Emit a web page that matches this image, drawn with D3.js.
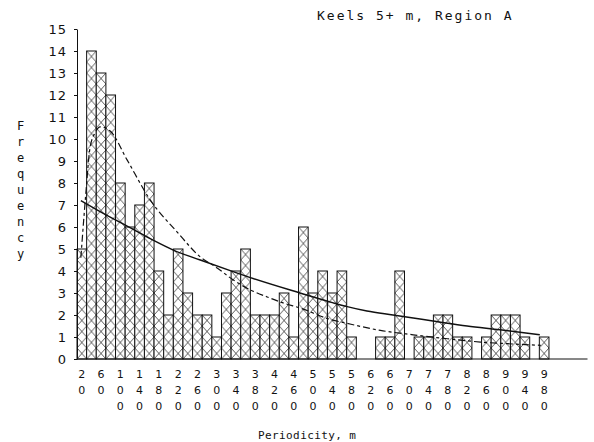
<!DOCTYPE html>
<html>
<head>
<meta charset="utf-8">
<script src="https://cdn.jsdelivr.net/npm/d3@7"></script>
<style>
  html, body { margin: 0; padding: 0; background: #fff; }
  svg { display: block; }
</style>
</head>
<body>
<svg id="chart" width="594" height="442"></svg>
<script>
// Histogram of keel periodicity (20 m bins, centred on the bin value)
const binCenters = [20, 40, 60, 80, 100, 120, 140, 160, 180, 200,
                    220, 240, 260, 280, 300, 320, 340, 360, 380, 400,
                    420, 440, 460, 480, 500, 520, 540, 560, 580, 600,
                    620, 640, 660, 680, 700, 720, 740, 760, 780, 800,
                    820, 840, 860, 880, 900, 920, 940, 960, 980];
const counts = [5, 14, 13, 12, 8, 6, 7, 8, 4, 2,
                5, 3, 2, 2, 1, 3, 4, 5, 2, 2,
                2, 3, 1, 6, 3, 4, 3, 4, 1, 0,
                0, 1, 1, 4, 0, 1, 1, 2, 2, 1,
                1, 0, 1, 2, 2, 2, 1, 0, 1];

// Axis tick labels
const xTickValues = [20, 60, 100, 140, 180, 220, 260, 300, 340, 380, 420, 460, 500,
                     540, 580, 620, 660, 700, 740, 780, 820, 860, 900, 940, 980];
const yTickValues = [0, 1, 2, 3, 4, 5, 6, 7, 8, 9, 10, 11, 12, 13, 14, 15];

// Fitted curve (solid)
const solidM = [18, 58, 126, 168, 210, 266, 334, 370, 473, 542, 571, 612, 666, 749, 820, 888, 971];
const solidV = [7.2, 6.7, 5.9, 5.4, 4.95, 4.5, 3.97, 3.7, 3.0, 2.55, 2.38, 2.18, 2.0, 1.73, 1.5, 1.33, 1.1];

// Fitted curve (dashed)
const dashM = [18, 29, 37, 48, 58, 79, 114, 162, 218, 266, 301, 334, 370, 405, 438, 473,
               536, 571, 640, 708, 779, 848, 917, 973];
const dashV = [4.6, 7.7, 9.6, 10.3, 10.55, 10.36, 9.05, 7.23, 5.77, 4.64, 4.14, 3.6, 3.14, 2.82, 2.55, 2.32,
               1.8, 1.62, 1.3, 1.1, 0.92, 0.77, 0.68, 0.62];

const titleText = "Keels 5+ m, Region A";
const xTitleText = "Periodicity, m";
const yTitleText = "Frequency";

const svg = d3.select("#chart");
const x = d3.scaleLinear().domain([10, 1070]).range([77, 587.5]);
const y = d3.scaleLinear().domain([0, 15]).range([359, 29]);
const binW = x(30) - x(10);
const cellH = (y(0) - y(1)) / 2;

// Cross-hatch fill: one "X" per cell, aligned to bin edges
const defs = svg.append("defs");
const pat = defs.append("pattern")
  .attr("id", "xhatch")
  .attr("patternUnits", "userSpaceOnUse")
  .attr("x", x(10)).attr("y", y(0))
  .attr("width", binW).attr("height", cellH);
pat.append("rect").attr("width", binW).attr("height", cellH).attr("fill", "#fff");
pat.append("path")
  .attr("d", `M0,0L${binW},${cellH}M${binW},0L0,${cellH}`)
  .attr("stroke", "#333").attr("stroke-width", 0.8).attr("fill", "none");

const bins = binCenters.map((c, i) => ({ c, n: counts[i] })).filter(d => d.n > 0);

svg.append("g").selectAll("rect")
  .data(bins)
  .join("rect")
  .attr("x", d => x(d.c - 10))
  .attr("width", d => x(d.c + 10) - x(d.c - 10))
  .attr("y", d => y(d.n))
  .attr("height", d => y(0) - y(d.n))
  .attr("fill", "url(#xhatch)")
  .attr("stroke", "#111")
  .attr("stroke-width", 1);

// Curves
const solidPts = solidM.map((m, i) => [m, solidV[i]]);
const dashPts = dashM.map((m, i) => [m, dashV[i]]);
const line = d3.line().x(d => x(d[0])).y(d => y(d[1])).curve(d3.curveMonotoneX);

svg.append("path").datum(solidPts)
  .attr("d", line).attr("fill", "none")
  .attr("stroke", "#111").attr("stroke-width", 1.5);

svg.append("path").datum(dashPts)
  .attr("d", line).attr("fill", "none")
  .attr("stroke", "#111").attr("stroke-width", 1.2)
  .attr("stroke-dasharray", "7,3,3,3");

// Y axis
const yAxis = d3.axisLeft(y).tickValues(yTickValues).tickSize(3).tickSizeOuter(0).tickPadding(7);
const gy = svg.append("g").attr("transform", `translate(${x(10)},0)`).call(yAxis);
gy.select(".domain").attr("stroke", "#111").attr("stroke-width", 1);
gy.selectAll(".tick line").attr("stroke", "#111");
gy.selectAll(".tick text")
  .attr("font-family", "DejaVu Sans, sans-serif")
  .attr("font-size", 13)
  .attr("letter-spacing", 1)
  .attr("fill", "#111");

// X axis baseline
svg.append("line")
  .attr("x1", x(10)).attr("x2", x(1070))
  .attr("y1", y(0)).attr("y2", y(0))
  .attr("stroke", "#111").attr("stroke-width", 1);

// X tick labels: digits stacked vertically
const xl = svg.append("g")
  .attr("font-family", "DejaVu Sans, sans-serif")
  .attr("font-size", 11)
  .attr("fill", "#111")
  .attr("text-anchor", "middle");
xTickValues.forEach(v => {
  String(v).split("").forEach((ch, row) => {
    xl.append("text")
      .attr("x", x(v))
      .attr("y", y(0) + 18.5 + row * 16)
      .text(ch);
  });
});

// Titles
svg.append("text")
  .attr("x", 317).attr("y", 19.5)
  .attr("font-family", "DejaVu Sans Mono, monospace")
  .attr("font-size", 13)
  .attr("letter-spacing", 2)
  .attr("fill", "#111")
  .text(titleText);

svg.append("text")
  .attr("x", 258).attr("y", 439)
  .attr("font-family", "DejaVu Sans Mono, monospace")
  .attr("font-size", 11)
  .attr("letter-spacing", 0.4)
  .attr("fill", "#111")
  .text(xTitleText);

const yt = svg.append("g")
  .attr("font-family", "DejaVu Sans Mono, monospace")
  .attr("font-size", 12)
  .attr("fill", "#111")
  .attr("text-anchor", "middle");
yTitleText.split("").forEach((ch, i) => {
  yt.append("text").attr("x", 20.5).attr("y", 130 + i * 16).text(ch);
});
</script>
</body>
</html>
